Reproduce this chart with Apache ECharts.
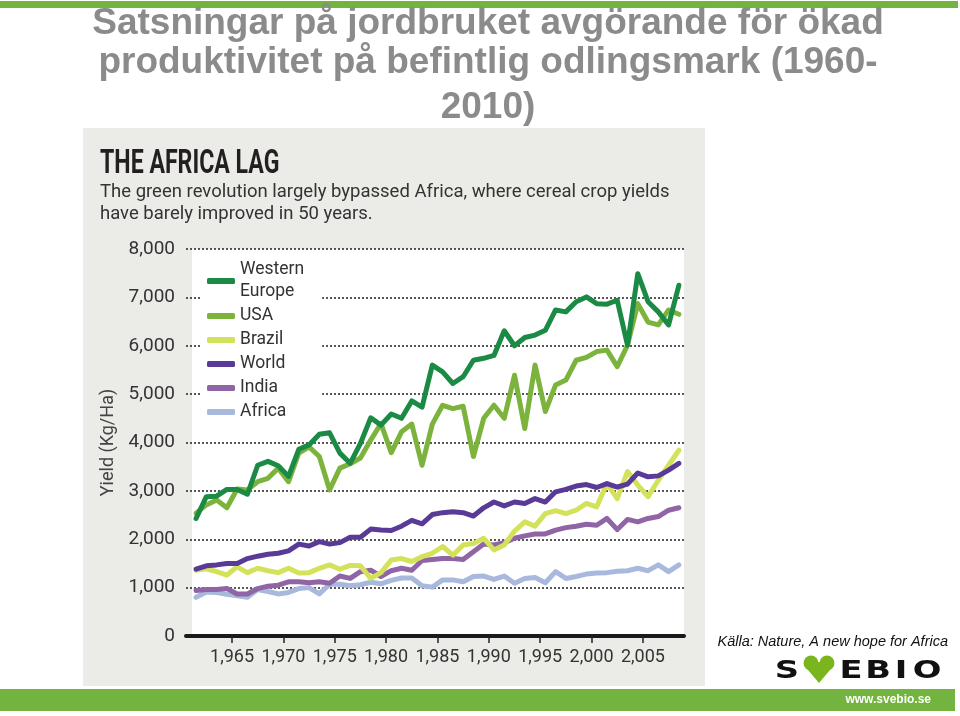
<!DOCTYPE html>
<html>
<head>
<meta charset="utf-8">
<script src="https://cdn.jsdelivr.net/npm/echarts@6/dist/echarts.min.js"></script>
<style>
html,body{margin:0;padding:0;background:#fff;}
#chart{width:960px;height:716px;}
</style>
</head>
<body>
<div id="chart"></div>
<script>
// ---- data ----
const years = [1961,1962,1963,1964,1965,1966,1967,1968,1969,1970,1971,1972,1973,1974,1975,1976,1977,1978,1979,1980,1981,1982,1983,1984,1985,1986,1987,1988,1989,1990,1991,1992,1993,1994,1995,1996,1997,1998,1999,2000,2001,2002,2003,2004,2005,2006,2007,2008];
const westernEurope = [2430,2880,2890,3030,3030,2930,3530,3610,3520,3300,3860,3950,4170,4200,3780,3570,3980,4510,4360,4590,4500,4860,4730,5600,5460,5220,5360,5700,5740,5800,6310,6000,6170,6220,6320,6740,6700,6910,7010,6870,6860,6940,6010,7490,6910,6700,6430,7250];
const usa = [2540,2710,2810,2650,3040,3020,3190,3260,3470,3190,3780,3910,3710,3020,3470,3560,3680,4050,4390,3790,4220,4380,3530,4380,4770,4700,4750,3710,4500,4770,4500,5390,4290,5600,4640,5190,5290,5700,5760,5880,5910,5570,6010,6870,6490,6430,6740,6650];
const brazil = [1360,1390,1330,1260,1430,1310,1400,1350,1310,1400,1300,1310,1400,1470,1380,1460,1450,1190,1310,1570,1600,1540,1640,1710,1850,1670,1880,1910,2020,1780,1880,2170,2360,2270,2530,2590,2530,2600,2740,2670,3150,2840,3400,3120,2880,3220,3530,3840];
const world = [1380,1450,1470,1500,1500,1600,1650,1690,1710,1760,1900,1860,1950,1900,1930,2040,2040,2210,2190,2180,2270,2390,2320,2510,2550,2570,2550,2480,2650,2770,2690,2770,2740,2840,2770,2980,3030,3100,3130,3070,3150,3080,3140,3370,3290,3310,3430,3570];
const india = [940,960,960,980,870,870,980,1030,1050,1120,1120,1100,1120,1090,1240,1190,1330,1360,1230,1350,1400,1360,1560,1580,1600,1600,1580,1740,1900,1880,1930,2020,2070,2110,2110,2190,2240,2270,2310,2290,2430,2200,2410,2360,2430,2470,2600,2650];
const africa = [800,910,900,860,830,800,960,920,870,900,980,1000,870,1070,1070,1040,1060,1110,1080,1150,1200,1200,1040,1010,1160,1160,1120,1230,1240,1170,1240,1090,1190,1210,1100,1330,1190,1230,1280,1300,1310,1340,1350,1400,1350,1470,1330,1470];
const seriesNames = ['Western\nEurope','USA','Brazil','World','India','Africa'];
const xTickYears = [1965,1970,1975,1980,1985,1990,1995,2000,2005];
const slideTitle = ['Satsningar på jordbruket avgörande för ökad','produktivitet på befintlig odlingsmark (1960-','2010)'];
const chartTitle = 'THE AFRICA LAG';
const chartSubtitle = ['The green revolution largely bypassed Africa, where cereal crop yields','have barely improved in 50 years.'];
const yAxisName = 'Yield (Kg/Ha)';
const sourceText = 'Källa: Nature, A new hope for Africa';
const siteText = 'www.svebio.se';
const logoLetters = ['S','E','B','I','O'];

const colors = {
  'Western\nEurope':'#1b8a45', 'USA':'#7cb33c', 'Brazil':'#d3e25a',
  'World':'#5a3a97', 'India':'#8f65a6', 'Africa':'#a8b9dd'
};
const valuesByName = {
  'Western\nEurope':westernEurope, 'USA':usa, 'Brazil':brazil,
  'World':world, 'India':india, 'Africa':africa
};
// drawing order (first drawn at the bottom)
const drawOrder = ['Africa','India','Brazil','World','USA','Western\nEurope'];

const chart = echarts.init(document.getElementById('chart'), null, {renderer:'canvas'});

const series = drawOrder.map(function(name, k){
  const vals = valuesByName[name];
  return {
    name: name,
    type: 'line',
    showSymbol: false,
    symbol: 'none',
    z: 3 + k,
    color: colors[name],
    lineStyle: {width: 5, color: colors[name], cap: 'round', join: 'round'},
    // points plotted at mid-year
    data: years.map(function(y, i){ return [y + 0.5, vals[i]]; })
  };
});

const FONT = 'Roboto, "Liberation Sans", sans-serif';
const TITLE_FONT = 'bold 37px "Liberation Sans", Arial, sans-serif';
const LOGO_FONT = '900 25px "DejaVu Sans", sans-serif';
const logoX = [787, 851, 878, 901, 927];

const graphics = [
  // top green bar
  {type:'rect', z:-30, shape:{x:0,y:1,width:958,height:7}, style:{fill:'#72b43f'}},
  // grey panel
  {type:'rect', z:-30, shape:{x:83,y:128,width:622,height:558}, style:{fill:'#ebebe8'}},
  // white plotting area
  {type:'rect', z:-25, shape:{x:192,y:249,width:492,height:387}, style:{fill:'#ffffff'}},
  // bottom green bar
  {type:'rect', z:-30, shape:{x:0,y:689,width:955,height:22}, style:{fill:'#72b43f'}},
  {type:'text', x:931, y:700, style:{text:siteText, fill:'#ffffff', font:'bold 12px "Liberation Sans", Arial, sans-serif', align:'right', verticalAlign:'middle'}},
  // slide title
  {type:'text', x:488, y:24, style:{text:slideTitle[0], fill:'#8b8b8b', font:TITLE_FONT, align:'center', verticalAlign:'middle'}},
  {type:'text', x:488, y:63, style:{text:slideTitle[1], fill:'#8b8b8b', font:TITLE_FONT, align:'center', verticalAlign:'middle'}},
  {type:'text', x:488, y:108, style:{text:slideTitle[2], fill:'#8b8b8b', font:TITLE_FONT, align:'center', verticalAlign:'middle'}},
  // chart title + subtitle
  {type:'text', x:100, y:164, scaleX:0.68, style:{text:chartTitle, fill:'#231f20', font:'bold 34px Roboto, sans-serif', align:'left', verticalAlign:'middle'}},
  {type:'text', x:100, y:192, style:{text:chartSubtitle[0], fill:'#333333', font:'18.5px Roboto, sans-serif', align:'left', verticalAlign:'middle'}},
  {type:'text', x:100, y:214, style:{text:chartSubtitle[1], fill:'#333333', font:'18.5px Roboto, sans-serif', align:'left', verticalAlign:'middle'}},
  // source
  {type:'text', x:948, y:642, style:{text:sourceText, fill:'#111111', font:'italic 14.5px "Liberation Sans", Arial, sans-serif', align:'right', verticalAlign:'middle'}},
  // SVEBIO logo heart/V mark
  {type:'circle', shape:{cx:811, cy:663, r:7.5}, style:{fill:'#7ab51d'}},
  {type:'circle', shape:{cx:827, cy:663, r:7.5}, style:{fill:'#7ab51d'}},
  {type:'polygon', shape:{points:[[803.8,665],[819,683],[834.2,665],[819,662]]}, style:{fill:'#7ab51d'}}
].concat(logoLetters.map(function(ch, i){
  return {type:'text', x:logoX[i], y:671, scaleX:1.35, style:{text:ch, fill:'#111', font:LOGO_FONT, align:'center', verticalAlign:'middle'}};
}));

const option = {
  animation: false,
  backgroundColor: '#ffffff',
  textStyle: {fontFamily: FONT},
  grid: {left:186, right:276, top:249, bottom:80, containLabel:false},
  legend: {
    orient: 'vertical',
    left: 200, top: 257,
    padding: [2, 18, 4, 7],
    backgroundColor: '#ffffff',
    itemGap: 2,
    itemWidth: 28, itemHeight: 6,
    icon: 'roundRect',
    selectedMode: false,
    data: seriesNames,
    textStyle: {fontSize: 17.5, lineHeight: 22, color:'#333333', fontFamily: FONT}
  },
  xAxis: {
    type: 'value',
    min: 1960.52, max: 2009.0,
    axisLine: {show:true, onZero:false, lineStyle:{color:'#1a1a1a', width:4}},
    axisTick: {show:true, customValues: xTickYears, length:7, lineStyle:{color:'#222', width:1.5}},
    axisLabel: {customValues: xTickYears, fontSize:18, color:'#333333', margin:12, fontFamily: FONT},
    splitLine: {show:false}
  },
  yAxis: {
    type: 'value',
    min: 0, max: 8000, interval: 1000,
    name: yAxisName,
    nameLocation: 'middle',
    nameRotate: 90,
    nameGap: 66,
    nameTextStyle: {fontSize:18, color:'#444444', fontFamily: FONT},
    axisLine: {show:false},
    axisTick: {show:false},
    axisLabel: {fontSize:19, color:'#333333', margin:11, fontFamily: FONT,
      formatter: function(v){ return v.toLocaleString('en-US'); }},
    splitLine: {show:true, lineStyle:{type:[2,2], color:'#222222', width:1.5}}
  },
  graphic: {elements: graphics},
  series: series
};
chart.setOption(option);
</script>
</body>
</html>
